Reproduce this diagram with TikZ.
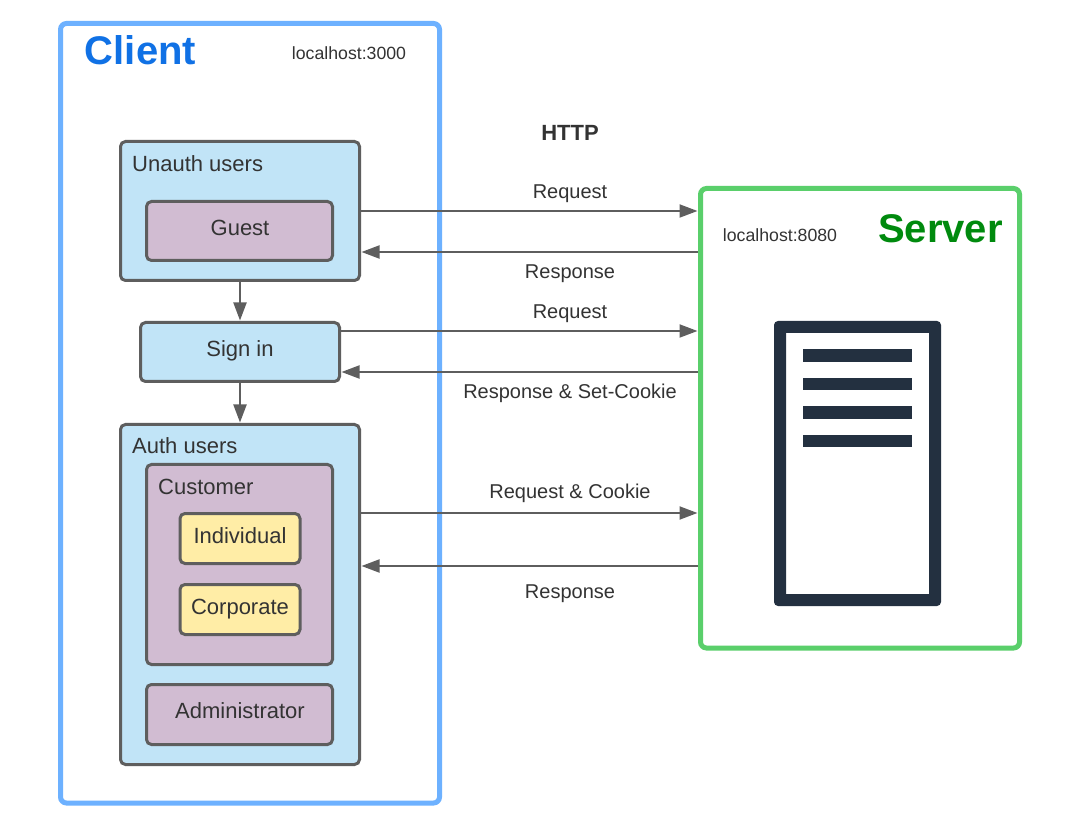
\documentclass[tikz,border=0pt]{standalone}
\usepackage{fontspec}
\setmainfont{Liberation Sans}
\usepackage{xcolor}
\usetikzlibrary{arrows.meta}
\definecolor{clientBlue}{HTML}{6DB1FF}
\definecolor{clientText}{HTML}{1071E5}
\definecolor{serverGreen}{HTML}{5ACF6B}
\definecolor{serverText}{HTML}{008A0E}
\definecolor{boxEdge}{HTML}{5E5E5E}
\definecolor{skyFill}{HTML}{C1E4F7}
\definecolor{mauveFill}{HTML}{D1BCD2}
\definecolor{sandFill}{HTML}{FFEDA6}
\definecolor{rackDark}{HTML}{233040}
\definecolor{labelInk}{HTML}{333333}
\tikzset{
  frame/.style={draw,line width=5pt,rounded corners=6pt,fill=white},
  sky/.style={draw=boxEdge,line width=3pt,rounded corners=5pt,fill=skyFill},
  mauve/.style={draw=boxEdge,line width=3pt,rounded corners=5pt,fill=mauveFill},
  sand/.style={draw=boxEdge,line width=3pt,rounded corners=5pt,fill=sandFill},
  txt/.style={anchor=base,text=labelInk,font=\fontsize{20}{24}\selectfont,inner sep=0pt},
  boxtxt/.style={txt,font=\fontsize{22}{26}\selectfont},
  flow/.style={draw=boxEdge,line width=2pt,shorten >=0.5pt,-{Triangle[length=18pt,width=13pt,fill=boxEdge]}}
}
\begin{document}
\begin{tikzpicture}[x=1pt,y=-1pt]
  \useasboundingbox (0,0) rectangle (1080,826);
  \fill[white] (0,0) rectangle (1080,826);
  % outer frames
  \node[frame,draw=clientBlue,minimum width=379pt,minimum height=779.5pt] (client) at (250,413.25) {};
  \node[frame,draw=serverGreen,minimum width=319pt,minimum height=459.5pt] (server) at (860,418.25) {};
  % client side boxes
  \node[sky,minimum width=239pt,minimum height=139pt] (unauth) at (240,211) {};
  \node[mauve,minimum width=186pt,minimum height=59pt] (guest) at (239.5,231) {};
  \node[sky,minimum width=199pt,minimum height=59pt] (signin) at (240,352) {};
  \node[sky,minimum width=239pt,minimum height=340pt] (auth) at (240,594.5) {};
  \node[mauve,minimum width=186pt,minimum height=200pt] (customer) at (239.5,564.5) {};
  \node[sand,minimum width=120pt,minimum height=50pt] (individual) at (240,538.5) {};
  \node[sand,minimum width=120pt,minimum height=50pt] (corporate) at (240,609.5) {};
  \node[mauve,minimum width=186pt,minimum height=60pt] (admin) at (239.5,714.5) {};
  % box labels
  \node[anchor=base,inner sep=0pt,text=clientText,font=\fontsize{40}{48}\selectfont\bfseries] (clientname) at (140.5,65) {Client};
  \node[txt,font=\fontsize{17.7}{22}\selectfont] (clientport) at (349,60) {localhost:3000};
  \node[anchor=base,inner sep=0pt,text=serverText,font=\fontsize{40}{48}\selectfont\bfseries] (servername) at (940.5,243) {Server};
  \node[txt,font=\fontsize{17.7}{22}\selectfont] (serverport) at (780,242) {localhost:8080};
  \node[boxtxt,anchor=base west] (unauthname) at (132,172) {Unauth users};
  \node[boxtxt] (guestname) at (240,235.5) {Guest};
  \node[boxtxt] (signinname) at (240,357) {Sign in};
  \node[boxtxt,anchor=base west] (authname) at (132,453.5) {Auth users};
  \node[boxtxt,anchor=base west] (customername) at (158,494) {Customer};
  \node[boxtxt] (individualname) at (240,543) {Individual};
  \node[boxtxt] (corporatename) at (240,614) {Corporate};
  \node[boxtxt] (adminname) at (240,718) {Administrator};
  % server icon
  \fill[rackDark,rounded corners=4pt,even odd rule] (774,321) rectangle (941,606)
    [sharp corners] (786,333) rectangle (929,594);
  \foreach \y in {349.5,378,406.5,435}{
    \fill[rackDark] (803,\y) rectangle (912,\y+12.5);
  }
  % flows between the boxes
  \draw[flow] (unauth) -- (signin);
  \draw[flow] (signin) -- (auth);
  \draw[flow] (unauth.east |- 0,211) -- (server.west |- 0,211);
  \draw[flow] (server.west |- 0,252) -- (unauth.east |- 0,252);
  \draw[flow] (signin.east |- 0,331) -- (server.west |- 0,331);
  \draw[flow] (server.west |- 0,372) -- (signin.east |- 0,372);
  \draw[flow] (auth.east |- 0,513) -- (server.west |- 0,513);
  \draw[flow] (server.west |- 0,566) -- (auth.east |- 0,566);
  % flow labels
  \node[txt,font=\fontsize{22}{26}\selectfont\bfseries] (http) at (570,140.5) {HTTP};
  \node[txt] (req1) at (570,198.5) {Request};
  \node[txt] (res1) at (570,278.5) {Response};
  \node[txt] (req2) at (570,318.5) {Request};
  \node[txt] (res2) at (570,398.5) {Response \& Set-Cookie};
  \node[txt] (req3) at (570,498) {Request \& Cookie};
  \node[txt] (res3) at (570,598) {Response};
\end{tikzpicture}
\end{document}
